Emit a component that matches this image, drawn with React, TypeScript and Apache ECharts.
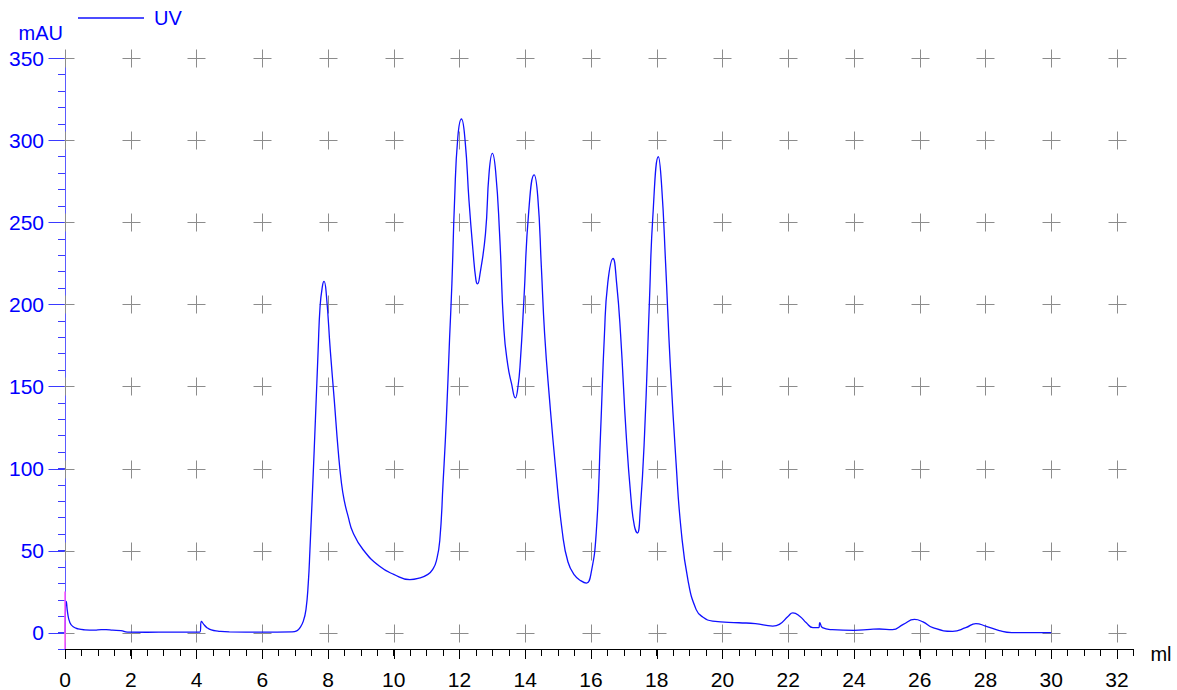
import React, { useEffect, useRef } from "react";
import * as echarts from "echarts";

// UV trace: [ml, mAU]
const uvTrace: [number, number][] = [
  [0, 0], [0.04, 19], [0.08, 12], [0.15, 6], [0.25, 3.5], [0.4, 2.3], [0.6, 1.7], [0.9, 1.5],
  [1.1, 1.8], [1.25, 1.8], [1.45, 1.5], [1.7, 1.2], [1.9, 0.3], [2.5, 0.2], [3.2, 0.3], [4.1, 0.3],
  [4.15, 6.8], [4.22, 5], [4.32, 3], [4.45, 1.6], [4.65, 0.9], [5.0, 0.4], [6.0, 0.3], [6.9, 0.4],
  [7.05, 1], [7.15, 3], [7.25, 7], [7.33, 14], [7.4, 30], [7.45, 50], [7.58, 111], [7.7, 172],
  [7.76, 199], [7.83, 211], [7.88, 214], [7.95, 206], [8.07, 172], [8.19, 142], [8.31, 111],
  [8.41, 91], [8.5, 80], [8.61, 71], [8.76, 61], [9.07, 50.5], [9.57, 40.4], [10.0, 35.5], [10.49, 32.3],
  [10.74, 33], [11.04, 35.5], [11.2, 39], [11.3, 44], [11.4, 56], [11.5, 91], [11.6, 130], [11.7, 180],
  [11.77, 213], [11.85, 263], [11.95, 302], [12.06, 313], [12.17, 300], [12.29, 263], [12.41, 233],
  [12.5, 215], [12.55, 212.5], [12.62, 218], [12.79, 243], [12.9, 280], [13.0, 292], [13.1, 281],
  [13.22, 243], [13.35, 185], [13.47, 163], [13.58, 152], [13.7, 143], [13.78, 150], [13.85, 165],
  [13.96, 203], [14.1, 255], [14.27, 279], [14.38, 266], [14.49, 223], [14.59, 182], [14.74, 142],
  [14.92, 101], [15.13, 61], [15.3, 43], [15.5, 35], [15.7, 31.5], [15.86, 30.2], [16.0, 36], [16.16, 61],
  [16.29, 121], [16.41, 182], [16.51, 213], [16.67, 228], [16.78, 213], [16.9, 182], [17.07, 121],
  [17.22, 81], [17.32, 65], [17.41, 60.7], [17.5, 75], [17.63, 121], [17.78, 203], [17.88, 253],
  [18.05, 290], [18.15, 272], [18.27, 225], [18.41, 164], [18.59, 103], [18.74, 63], [18.95, 32],
  [19.2, 14], [19.4, 9.5], [19.7, 7], [20.5, 6], [21.0, 5.5], [21.53, 4], [21.73, 5], [22.0, 10],
  [22.14, 12], [22.35, 10], [22.55, 6], [22.75, 3], [22.93, 3], [22.96, 6], [23.04, 3], [23.34, 1.8],
  [24.0, 1.4], [24.5, 2], [24.77, 2.2], [25.17, 1.8], [25.5, 5], [25.84, 8], [26.1, 6.5], [26.4, 3],
  [27.0, 0.8], [27.4, 3], [27.71, 5.5], [28.0, 4], [28.42, 1.2], [28.8, 0], [30.0, 0],
];

// Injection mark at 0 ml
const injectionMark: [number, number][] = [[0, 25], [0, -10]];

// Grid "+" positions
const crossMl = [0, 2, 4, 6, 8, 10, 12, 14, 16, 18, 20, 22, 24, 26, 28, 30, 32];
const crossMau = [0, 50, 100, 150, 200, 250, 300, 350];

const FONT = "'Liberation Sans', Arial, sans-serif";

export default function App() {
  const ref = useRef<HTMLDivElement>(null);
  useEffect(() => {
    if (!ref.current) return;
    const chart = echarts.init(ref.current, null, { renderer: "svg" });
    const crossData: [number, number][] = [];
    crossMl.forEach((x) => crossMau.forEach((y) => crossData.push([x, y])));

    chart.setOption({
      animation: false,
      backgroundColor: "#ffffff",
      grid: { left: 65, right: 43.6, top: 58.3, bottom: 40.3, containLabel: false },
      legend: {
        data: [{ name: "UV", icon: "rect" }],
        left: 73,
        top: 3,
        itemWidth: 66,
        itemHeight: 1.5,
        itemGap: 10,
        textStyle: { color: "#0000ff", fontSize: 20, fontFamily: FONT, padding: [0, 0, 0, 5] },
      },
      xAxis: {
        type: "value",
        min: 0,
        max: 32.5,
        interval: 0.5,
        name: "ml",
        nameLocation: "end",
        nameGap: 17,
        nameTextStyle: { color: "#000", fontSize: 20, fontFamily: FONT, verticalAlign: "top", padding: [-5, 0, 0, 0] },
        axisLine: { onZero: false, lineStyle: { color: "#000", width: 1 } },
        axisTick: { length: 7, lineStyle: { color: "#000" } },
        axisLabel: {
          color: "#000",
          fontSize: 21,
          fontFamily: FONT,
          margin: 20,
          formatter: (v: number) => (Math.abs(v % 2) < 1e-9 && v <= 32 ? String(v) : ""),
        },
        splitLine: { show: false },
      },
      yAxis: {
        type: "value",
        min: -10,
        max: 350,
        interval: 10,
        name: "mAU",
        nameLocation: "end",
        nameGap: 15,
        nameTextStyle: { color: "#0000ff", fontSize: 20, fontFamily: FONT, align: "right", padding: [0, 2, 0, 0] },
        axisLine: { lineStyle: { color: "#5a5aff", width: 1 } },
        axisTick: { length: 7, lineStyle: { color: "#3a3aff" } },
        axisLabel: {
          color: "#0000ff",
          fontSize: 21,
          fontFamily: FONT,
          margin: 21,
          formatter: (v: number) => (v % 50 === 0 && v >= 0 ? String(v) : ""),
        },
        splitLine: { show: false },
      },
      series: [
        {
          type: "custom",
          name: "grid",
          silent: true,
          clip: false,
          z: 1,
          data: crossData,
          renderItem: (params: any, api: any) => {
            const xv = api.value(0);
            const yv = api.value(1);
            const p = api.coord([xv, yv]);
            const cx = Math.round(p[0]) + 0.5;
            const cy = Math.round(p[1]) + 0.5;
            const children: any[] = [
              { type: "line", shape: { x1: cx - 9, y1: cy, x2: cx + 9, y2: cy }, style: { stroke: "#8c8c8c", lineWidth: 1 } },
              { type: "line", shape: { x1: cx, y1: cy - 9, x2: cx, y2: cy + 9 }, style: { stroke: "#8c8c8c", lineWidth: 1 } },
            ];
            if (xv === 0) {
              children.push({ type: "line", shape: { x1: cx - 17, y1: cy, x2: cx - 1, y2: cy }, style: { stroke: "#3a3aff", lineWidth: 1 } });
            }
            if (yv === 0) {
              const b = api.coord([xv, -10]);
              const by = Math.round(b[1]);
              children.push({ type: "line", shape: { x1: cx, y1: by, x2: cx, y2: by + 10 }, style: { stroke: "#000", lineWidth: 1 } });
            }
            return { type: "group", children };
          },
        },
        {
          type: "line",
          name: "UV",
          data: uvTrace,
          symbol: "none",
          smooth: 0.5,
          clip: false,
          z: 3,
          lineStyle: { color: "#1010ff", width: 1.3 },
          itemStyle: { color: "#1010ff" },
        },
        {
          type: "line",
          name: "Injection",
          data: injectionMark,
          symbol: "none",
          clip: false,
          silent: true,
          z: 4,
          lineStyle: { color: "#ff55ff", width: 1.5 },
        },
      ],
    });
    return () => chart.dispose();
  }, []);
  return (
    <div
      ref={ref}
      style={{ position: "fixed", left: 0, top: 0, width: 1177, height: 690, background: "#fff" }}
    />
  );
}
